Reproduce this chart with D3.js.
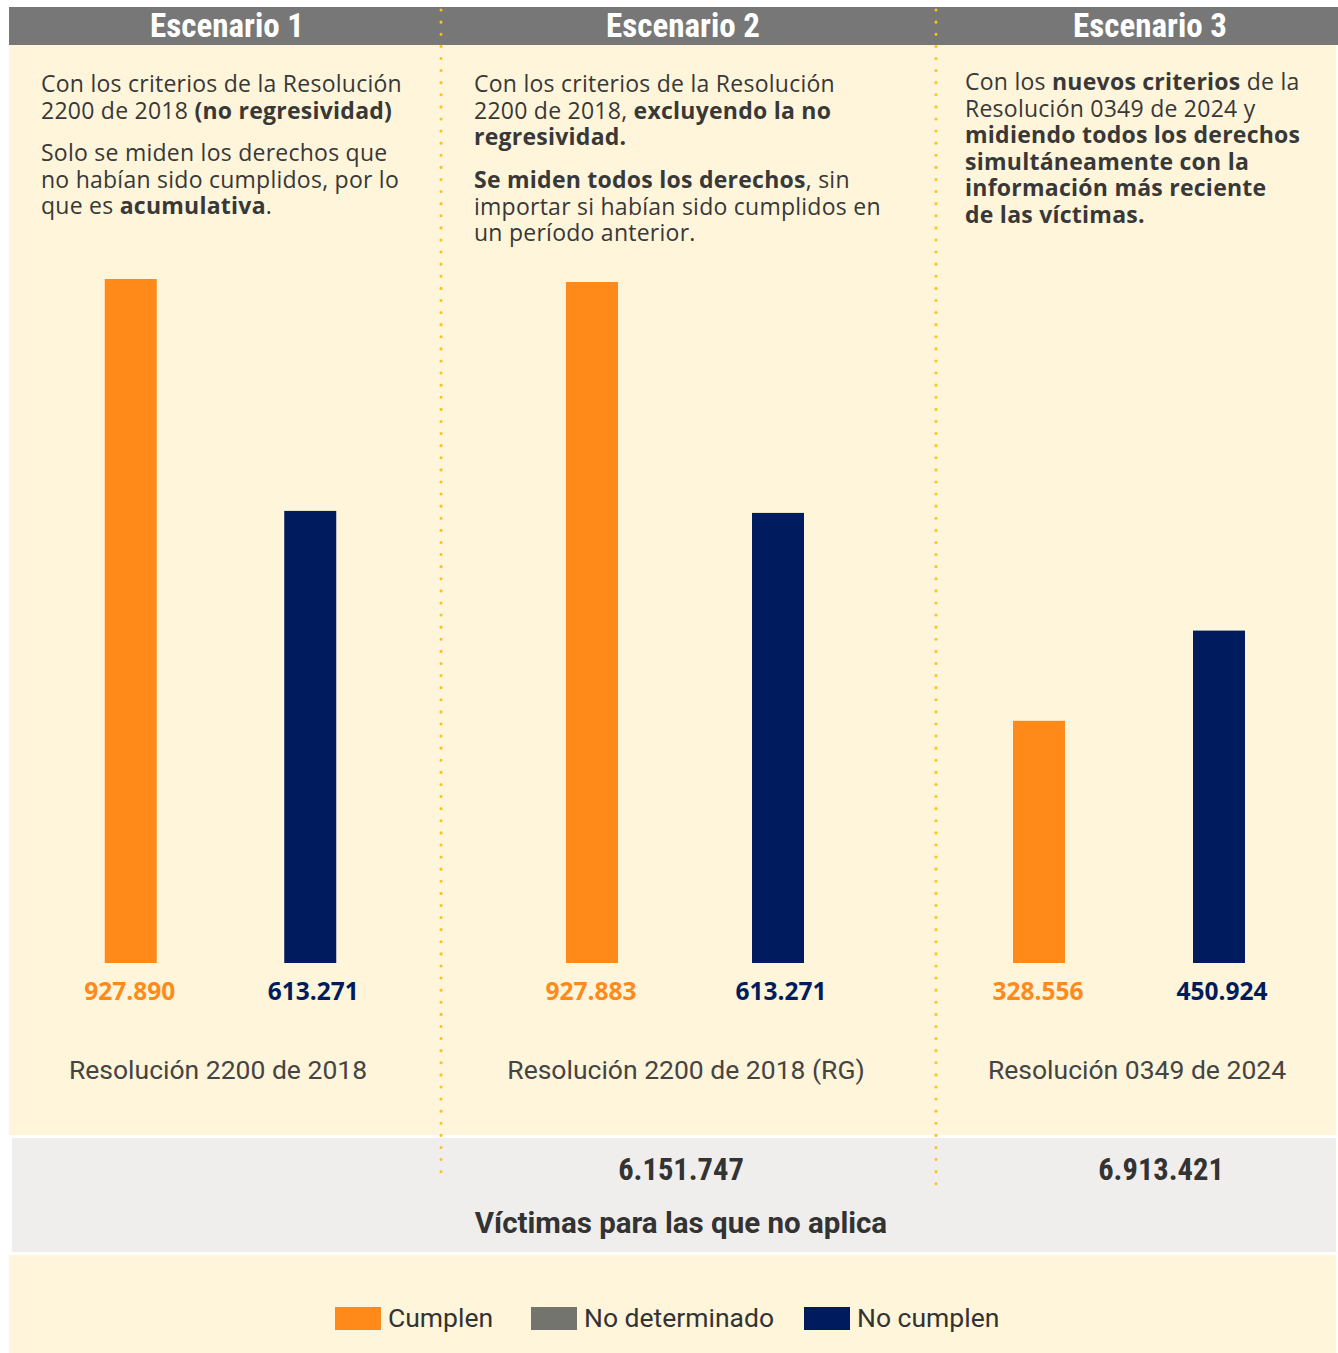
<!DOCTYPE html>
<html><head><meta charset="utf-8">
<script src="https://cdn.jsdelivr.net/npm/d3@7"></script>
<style>
body{margin:0;background:#fff;}
svg{display:block;}
</style></head>
<body>
<svg id="chart" width="1338" height="1353"></svg>
<script>
// ---------- DATA ----------
const scenarios = ["Escenario 1", "Escenario 2", "Escenario 3"];
const resolutions = ["Resolución 2200 de 2018", "Resolución 2200 de 2018 (RG)", "Resolución 0349 de 2024"];
const seriesNames = ["Cumplen", "No cumplen"];
const cumplen = [927890, 927883, 328556];
const noCumplen = [613271, 613271, 450924];
const noAplica = [null, 6151747, 6913421];
const noAplicaLabel = "Víctimas para las que no aplica";
const legendLabels = ["Cumplen", "No determinado", "No cumplen"];
// descriptive text: each paragraph is a list of lines, each line a list of [text, bold]
const descriptions = [
  [
    [[["Con los criterios de la Resolución", 0]], [["2200 de 2018 ", 0], ["(no regresividad)", 1]]],
    [[["Solo se miden los derechos que", 0]], [["no habían sido cumplidos, por lo", 0]], [["que es ", 0], ["acumulativa", 1], [".", 0]]]
  ],
  [
    [[["Con los criterios de la Resolución", 0]], [["2200 de 2018, ", 0], ["excluyendo la no", 1]], [["regresividad.", 1]]],
    [[["Se miden todos los derechos", 1], [", sin", 0]], [["importar si habían sido cumplidos en", 0]], [["un período anterior.", 0]]]
  ],
  [
    [[["Con los ", 0], ["nuevos criterios", 1], [" de la", 0]], [["Resolución 0349 de 2024 y", 0]],
     [["midiendo todos los derechos", 1]], [["simultáneamente con la", 1]], [["información más reciente", 1]], [["de las víctimas.", 1]]]
  ]
];

// ---------- STYLE / LAYOUT ----------
const C = {cream: "#FEF5DA", header: "#777777", orange: "#FF8A1A", navy: "#001C5E", grey: "#74746F",
           text: "#383838", band: "#EFEEEC", dot: "#FFC20E"};
const panels = [
  {hx: 227, bx: [41, 400], yTop: 279, tx: 41, ty: [84, 153], lx: 218},
  {hx: 683, bx: [499, 871], yTop: 282, tx: 474, ty: [84, 180], lx: 686},
  {hx: 1150, bx: [949, 1309], yTop: 279, tx: 965, ty: [82], lx: 1137}
];
const baseY = 963, barW = 52;
const bodyFont = "'Open Sans', Nunito, Lato, sans-serif";
const condFont = "'Roboto Condensed', Roboto, sans-serif";
const semiFont = "Roboto, sans-serif";

const loc = d3.formatLocale({decimal: ",", thousands: ".", grouping: [3], currency: ["$", ""]});
const fmt = loc.format(",d");

const svg = d3.select("#chart");

// backgrounds
svg.append("rect").attr("x", 9).attr("y", 7).attr("width", 1327).attr("height", 1128).attr("fill", C.cream);
svg.append("rect").attr("x", 12).attr("y", 1138).attr("width", 1324).attr("height", 114).attr("fill", C.band);
svg.append("rect").attr("x", 9).attr("y", 1255).attr("width", 1327).attr("height", 98).attr("fill", C.cream);
svg.append("rect").attr("x", 9).attr("y", 7).attr("width", 1329).attr("height", 38).attr("fill", C.header);

// dotted dividers
[[441, 1178], [936, 1188]].forEach(([x, y1]) => {
  svg.append("line").attr("x1", x).attr("x2", x).attr("y1", 10).attr("y2", y1)
    .attr("stroke", C.dot).attr("stroke-width", 3).attr("stroke-linecap", "round")
    .attr("stroke-dasharray", "0.1 12");
});

const colorScale = d3.scaleOrdinal().domain(legendLabels).range([C.orange, C.grey, C.navy]);
const labelOffset = [-1, 3];

scenarios.forEach((name, i) => {
  const p = panels[i];
  const g = svg.append("g");
  // header
  g.append("text").attr("x", p.hx).attr("y", 37).attr("text-anchor", "middle")
    .attr("font-family", condFont).attr("font-weight", 700).attr("font-size", 33)
    .attr("fill", "#fff").text(name);

  // description
  let yy = p.ty[0];
  descriptions[i].forEach((para, pi) => {
    if (pi > 0) yy = p.ty[pi] !== undefined ? p.ty[pi] : yy + 17;
    para.forEach(line => {
      const t = g.append("text").attr("x", p.tx).attr("y", yy).attr("dy", "0.35em")
        .attr("font-family", bodyFont).attr("font-size", 23).attr("letter-spacing", 0.25)
        .attr("fill", C.text);
      line.forEach(([s, b]) => t.append("tspan").attr("font-weight", b ? 700 : 400).text(s));
      yy += 26.6;
    });
  });

  // bars
  const x = d3.scaleBand().domain(seriesNames).range(p.bx);
  const y = d3.scaleLinear().domain([0, d3.max(cumplen.concat(noCumplen))]).range([baseY, p.yTop]);
  const vals = [cumplen[i], noCumplen[i]];
  const cols = [C.orange, C.navy];
  g.selectAll("rect.bar").data(seriesNames).join("rect").attr("class", "bar")
    .attr("x", d => x(d) + x.bandwidth() / 2 - barW / 2)
    .attr("width", barW)
    .attr("y", (d, k) => y(vals[k]))
    .attr("height", (d, k) => y(0) - y(vals[k]))
    .attr("fill", d => colorScale(d));
  g.selectAll("text.val").data(seriesNames).join("text").attr("class", "val")
    .attr("x", (d, k) => x(d) + x.bandwidth() / 2 + labelOffset[k])
    .attr("y", 991).attr("dy", "0.35em").attr("text-anchor", "middle")
    .attr("font-family", bodyFont).attr("font-weight", 700).attr("font-size", 24.5)
    .attr("fill", (d, k) => cols[k]).text((d, k) => fmt(vals[k]));

  // resolution label
  g.append("text").attr("x", p.lx).attr("y", 1070).attr("dy", "0.35em").attr("text-anchor", "middle")
    .attr("font-family", semiFont).attr("font-size", 26.5).attr("fill", "#444").text(resolutions[i]);

  // no aplica totals
  if (noAplica[i] !== null) {
    g.append("text").attr("x", i === 1 ? 681 : 1161).attr("y", 1169).attr("dy", "0.35em").attr("text-anchor", "middle")
      .attr("font-family", condFont).attr("font-weight", 700).attr("font-size", 30.5).attr("fill", "#333")
      .text(fmt(noAplica[i]));
  }
});

svg.append("text").attr("x", 681).attr("y", 1223).attr("dy", "0.35em").attr("text-anchor", "middle")
  .attr("font-family", semiFont).attr("font-weight", 700).attr("font-size", 29.5).attr("fill", "#333")
  .text(noAplicaLabel);

// legend
const legX = [335, 531, 804];
const leg = svg.append("g");
legendLabels.forEach((l, i) => {
  leg.append("rect").attr("x", legX[i]).attr("y", 1307).attr("width", 46).attr("height", 23).attr("fill", colorScale(l));
  leg.append("text").attr("x", legX[i] + 53).attr("y", 1318).attr("dy", "0.35em")
    .attr("font-family", semiFont).attr("font-size", 26.5).attr("fill", "#333").text(l);
});
</script>
</body></html>
